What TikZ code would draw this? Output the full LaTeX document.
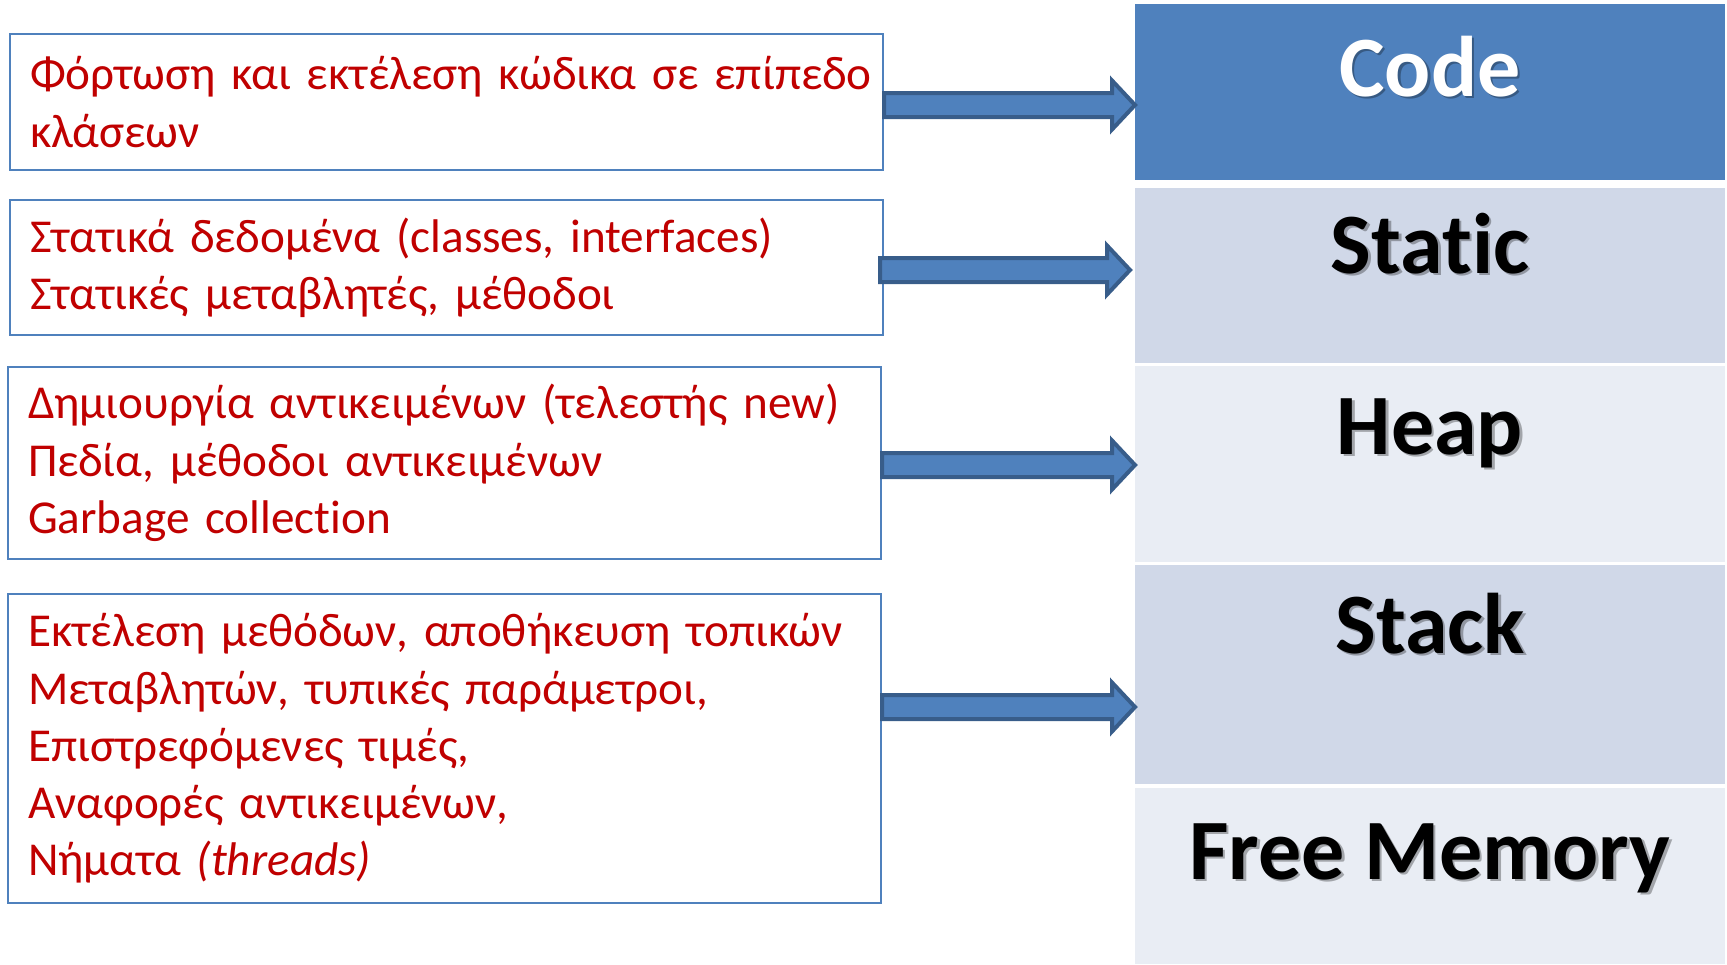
\documentclass[tikz,border=0pt]{standalone}
\usepackage{fontspec}
\setmainfont{Carlito}[Ligatures=NoCommon]
\usetikzlibrary{calc}

\definecolor{accentblue}{HTML}{4F81BD}
\definecolor{arrowedge}{HTML}{385D8A}
\definecolor{bandmid}{HTML}{D0D8E8}
\definecolor{bandlight}{HTML}{E9EDF4}
\definecolor{notered}{HTML}{C00000}

\tikzset{
  notebox/.style={draw=accentblue, line width=1pt, fill=white, inner xsep=10pt,
    inner ysep=0pt, align=left, text=notered,
    font=\fontsize{23.6}{28.65}\selectfont},
  band/.style={draw=none, inner sep=0pt, anchor=north west},
  bandlabel/.style={anchor=base, font=\fontsize{43}{50}\selectfont\bfseries},
  blockarrow/.style={fill=accentblue, draw=arrowedge, line width=2pt, line join=miter},
}

% fat block arrow from #1 to #2 (shaft half height, head half height, head length in px)
\newcommand\fatarrow[2]{%
  \draw[blockarrow] ($(#1)+(0,-12)$) -- ($(#2)+(-23,-12)$) -- ($(#2)+(-23,-24.5)$)
    -- (#2) -- ($(#2)+(-23,24.5)$) -- ($(#2)+(-23,12)$) -- ($(#1)+(0,12)$) -- cycle;}

% label with a soft drop shadow
\newcommand\shadedlabel[4]{%
  \node[bandlabel, text=black, opacity=0.3] at ($(#1)+(2.5,2.5)$) {#3};
  \node[bandlabel, text=#4] (#2) at (#1) {#3};}

\begin{document}
\begin{tikzpicture}[x=0.5pt, y=-0.5pt]
\useasboundingbox (0,0) rectangle (1727,964);

% memory layout column
\node[band, fill=accentblue, minimum width=295pt, minimum height=87.75pt] (code) at (1135,4) {};
\node[band, fill=bandmid, minimum width=295pt, minimum height=87.5pt] (static) at (1135,188) {};
\node[band, fill=bandlight, minimum width=295pt, minimum height=98pt] (heap) at (1135,366) {};
\node[band, fill=bandmid, minimum width=295pt, minimum height=109.5pt] (stack) at (1135,565) {};
\node[band, fill=bandlight, minimum width=295pt, minimum height=88pt] (free) at (1135,788) {};

\coordinate (lc) at (1430,96);
\coordinate (ls) at (1430,273);
\coordinate (lh) at (1430,454);
\coordinate (lk) at (1430,653);
\coordinate (lf) at (1430,879);
\shadedlabel{lc}{codelabel}{Code}{white}
\shadedlabel{ls}{staticlabel}{Static}{black}
\shadedlabel{lh}{heaplabel}{Heap}{black}
\shadedlabel{lk}{stacklabel}{Stack}{black}
\shadedlabel{lf}{freelabel}{Free Memory}{black}

% description boxes
\node[notebox, text width=416.5pt, minimum height=68pt] (b1) at (446.5,102)
  {\mbox{Φόρτωση και εκτέλεση κώδικα σε επίπεδο}\\κλάσεων};
\node[notebox, text width=416.5pt, minimum height=67.5pt] (b2) at (446.5,267.5)
  {Στατικά δεδομένα (classes, interfaces)\\Στατικές μεταβλητές, μέθοδοι};
\node[notebox, text width=416.5pt, minimum height=96pt] (b3) at (444.5,463)
  {Δημιουργία αντικειμένων (τελεστής new)\\Πεδία, μέθοδοι αντικειμένων\\Garbage collection};
\node[notebox, text width=416.5pt, minimum height=154.5pt] (b4) at (444.5,748.5)
  {Εκτέλεση μεθόδων, αποθήκευση τοπικών\\Μεταβλητών, τυπικές παράμετροι,\\Επιστρεφόμενες τιμές,\\Αναφορές αντικειμένων,\\Νήματα \textit{(threads)}};

% arrows from the descriptions to the memory areas
\coordinate (a1s) at (b1.east |- 0,105);
\coordinate (a1e) at (code.west |- 0,105);
\coordinate (a2s) at ($(b2.east |- 0,270)+(-4,0)$);
\coordinate (a2e) at ($(static.west |- 0,270)+(-5,0)$);
\coordinate (a3s) at (b3.east |- 0,465);
\coordinate (a3e) at (heap.west |- 0,465);
\coordinate (a4s) at (b4.east |- 0,707);
\coordinate (a4e) at (stack.west |- 0,707);
\fatarrow{a1s}{a1e}
\fatarrow{a2s}{a2e}
\fatarrow{a3s}{a3e}
\fatarrow{a4s}{a4e}
\end{tikzpicture}
\end{document}
